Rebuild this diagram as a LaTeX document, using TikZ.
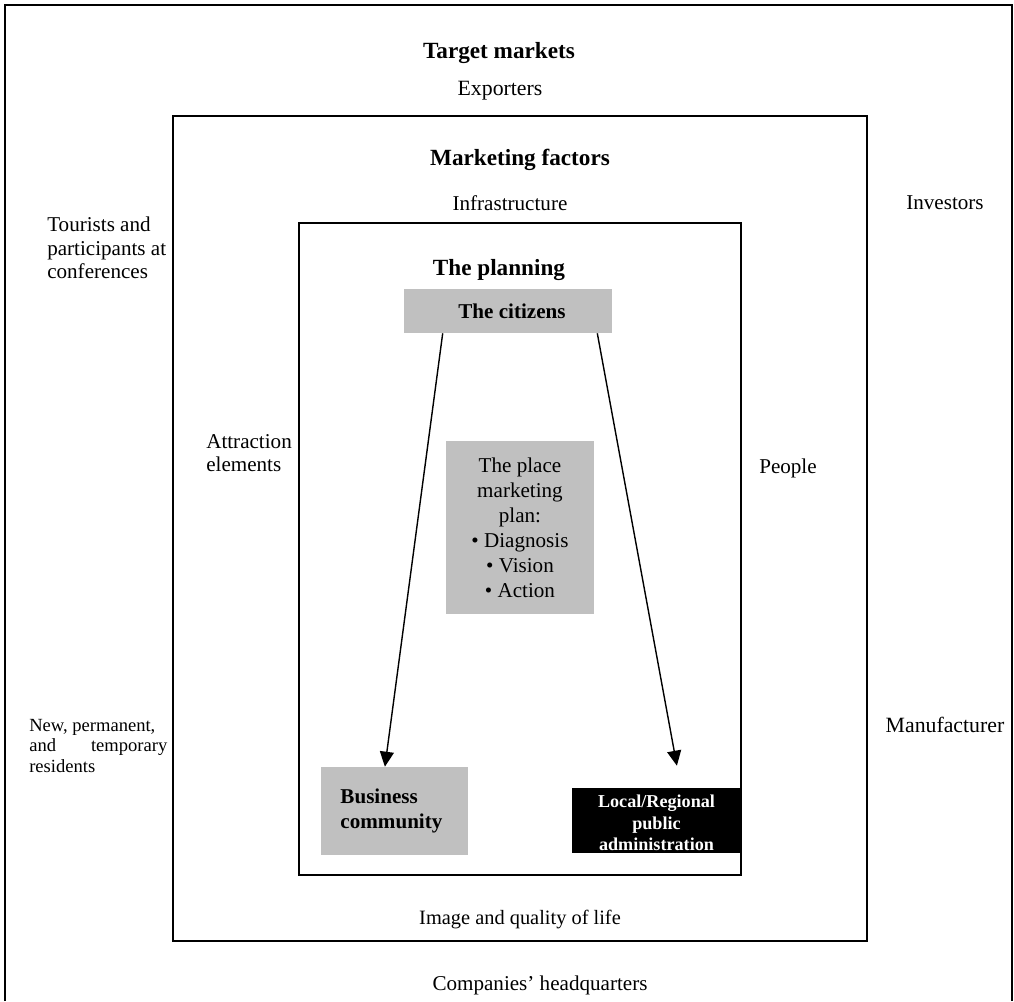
\documentclass[tikz,border=0pt]{standalone}
\usepackage{fontspec}
\setmainfont{Liberation Serif}
\usepackage{tikz}
\usetikzlibrary{arrows.meta,calc,positioning}
\definecolor{boxgrey}{RGB}{192,192,192}

\begin{document}
\begin{tikzpicture}[x=0.025cm,y=-0.025cm,
    txt/.style={font=\fontsize{15}{16.7}\selectfont, inner sep=0pt},
    ttl/.style={font=\fontsize{16.5}{20}\selectfont\bfseries, inner sep=0pt},
    greybox/.style={fill=boxgrey, draw=none, inner sep=0pt},
    frame/.style={line width=1.2pt}]
        \useasboundingbox (0,0) rectangle (1014,1001);
        %Frames
        \draw[frame] (5,1001) -- (5,5) -- (1012,5) -- (1012,1001);
        \draw[frame] (173,116) rectangle (867,941);
        \draw[frame] (299,223) rectangle (741,875);
        %Titles
        \node[ttl] (target) at (499,53) {Target markets};
        \node[ttl] (factors) at (520,160) {Marketing factors};
        \node[ttl] (planning) at (499,270) {The planning};
        %Target markets
        \node[txt, font=\fontsize{15.5}{17}\selectfont] (exporters) at (500,91) {Exporters};
        \node[txt, anchor=west, align=left] (tourists) at (47,248) {Tourists and\\participants at\\conferences};
        \node[txt] (investors) at (945,203) {Investors};
        \node[txt, anchor=west, align=left,
              font=\fontsize{13.2}{14.6}\selectfont] (residents) at (29,746)
              {New, permanent,\\\makebox[3.45cm][s]{and\hfill temporary}\\residents};
        \node[txt, font=\fontsize{15.5}{17}\selectfont] (manufacturer) at (945,725) {Manufacturer};
        \node[txt] (headquarters) at (540,985) {Companies’ headquarters};
        %Marketing factors
        \node[txt] (infra) at (510,203) {Infrastructure};
        \node[txt, anchor=west, align=left] (attraction) at (206,453) {Attraction\\elements};
        \node[txt] (people) at (788,468) {People};
        \node[txt, font=\fontsize{14.5}{16}\selectfont] (image) at (520,920) {Image and quality of life};
        %Boxes
        \node[greybox, minimum width=5.2cm, minimum height=1.1cm,
              font=\fontsize{15}{16}\selectfont\bfseries] (citizens) at (508,311) {\hspace*{0.2cm}The citizens};
        \node[greybox, minimum width=3.7cm, minimum height=4.325cm, align=center,
              font=\fontsize{15}{17.8}\selectfont] (plan) at (520,527.5)
              {The place\\marketing\\plan:\\\textbullet\ Diagnosis\\\textbullet\ Vision\\\textbullet\ Action};
        \node[greybox, minimum width=3.675cm, minimum height=2.2cm, inner xsep=0.475cm,
              text width=2.7cm, align=left,
              font=\fontsize{15}{17.8}\selectfont\bfseries] (business) at (394.5,811)
              {Business\\community\\[0.45cm]};
        \node[fill=black, text=white, inner sep=0pt, minimum width=4.225cm, minimum height=1.625cm,
              align=center, font=\fontsize{12.9}{15.3}\selectfont\bfseries] (admin) at (656.5,820.5)
              {\\[-0.1cm]Local/Regional\\public\\administration};
        %Arrows
        \draw[-{Triangle[length=3.75mm,width=3.5mm]}, line width=1pt]
              ([xshift=0.975cm]citizens.south west) -- ([xshift=-0.24cm]business.north);
        \draw[-{Triangle[length=3.75mm,width=3.5mm]}, line width=1pt]
              ([xshift=-0.375cm]citizens.south east) -- ([xshift=0.51cm,yshift=0.55cm]admin.north);
\end{tikzpicture}
\end{document}
